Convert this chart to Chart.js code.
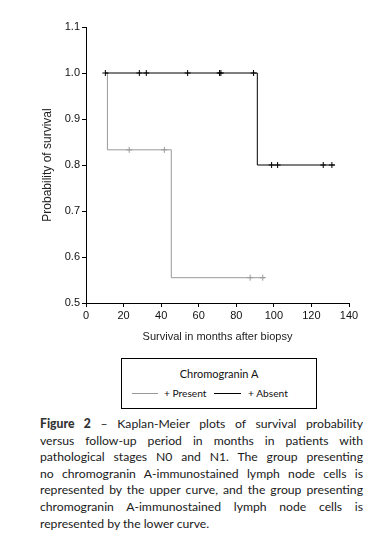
<!DOCTYPE html>
<html>
<head>
<meta charset="utf-8">
<script src="https://cdn.jsdelivr.net/npm/chart.js@4/dist/chart.umd.min.js"></script>
<style>
  html, body { margin: 0; padding: 0; background: #fff; }
  body { width: 372px; height: 550px; position: relative; overflow: hidden; }
  #c { position: absolute; left: 0; top: 0; }
  #legend { position: absolute; left: 121px; top: 358px; width: 194px; height: 49px;
            border: 1px solid #000; font-family: "Lato", "Liberation Sans", sans-serif; font-size: 11px; color: #111; }
  #legend .title { position: absolute; top: 8px; left: 0; width: 100%; text-align: center; }
  #legend .item { position: absolute; top: 28px; white-space: nowrap; font-size: 10.2px; }
  #legend .swatch { position: absolute; top: 7px; height: 0; border-top: 1px solid; }
  #caption { position: absolute; left: 40px; top: 416px; width: 323px;
             font-family: "Lato", "Noto Sans", sans-serif; font-size: 12.2px; color: #1a1a1a; line-height: 16.6px; }
  #caption div { white-space: nowrap; text-align: justify; text-align-last: justify; }
  #caption div.last { text-align-last: left; }
  #caption b { font-weight: 900; color: #333; }
</style>
</head>
<body>
<canvas id="c" width="372" height="350"></canvas>
<div id="legend">
  <div class="title">Chromogranin A</div>
  <div class="swatch" style="left:10px;width:26px;border-color:#999;top:34px;"></div>
  <div class="item" style="left:42px;">+ Present</div>
  <div class="swatch" style="left:92px;width:27px;border-color:#000;top:34px;"></div>
  <div class="item" style="left:126px;">+ Absent</div>
</div>
<div id="caption">
  <div><b>Figure 2</b> – Kaplan-Meier plots of survival probability</div>
  <div>versus follow-up period in months in patients with</div>
  <div>pathological stages N0 and N1. The group presenting</div>
  <div>no chromogranin A-immunostained lymph node cells is</div>
  <div>represented by the upper curve, and the group presenting</div>
  <div>chromogranin A-immunostained lymph node cells is</div>
  <div class="last">represented by the lower curve.</div>
</div>
<script>
// ---- Data ----
const absentTimes = [10.3, 91.2, 132.5];
const absentSurv  = [1.0, 0.8, 0.8];
const presentTimes = [10.3, 11.4, 45.4, 95.4];
const presentSurv  = [1.0, 0.833, 0.555, 0.555];
const absentCensorTimes = [10.3, 28.4, 32.1, 54.1, 71.1, 71.8, 89.2, 98.8, 102.0, 126.3, 130.9];
const absentCensorSurv  = [1.0, 1.0, 1.0, 1.0, 1.0, 1.0, 1.0, 0.8, 0.8, 0.8, 0.8];
const presentCensorTimes = [23.0, 41.7, 87.4, 94.1];
const presentCensorSurv  = [0.833, 0.833, 0.555, 0.555];
const xTicks = [0, 20, 40, 60, 80, 100, 120, 140];
const yTicks = [0.5, 0.6, 0.7, 0.8, 0.9, 1.0, 1.1];

const pts = (xs, ys) => xs.map((x, i) => ({x: x, y: ys[i]}));
const GRAY = '#999999';

new Chart(document.getElementById('c'), {
  type: 'line',
  data: {
    datasets: [
      { label: 'Absent', data: pts(absentTimes, absentSurv), stepped: true,
        borderColor: '#000', borderWidth: 1, pointRadius: 0, fill: false },
      { label: 'Absent censored', type: 'scatter', data: pts(absentCensorTimes, absentCensorSurv),
        showLine: false, pointStyle: 'cross', pointRadius: 3, borderColor: '#000', borderWidth: 1 },
      { label: 'Present', data: pts(presentTimes, presentSurv), stepped: true,
        borderColor: GRAY, borderWidth: 1, pointRadius: 0, fill: false },
      { label: 'Present censored', type: 'scatter', data: pts(presentCensorTimes, presentCensorSurv),
        showLine: false, pointStyle: 'cross', pointRadius: 3, borderColor: GRAY, borderWidth: 1 }
    ]
  },
  options: {
    responsive: false,
    animation: false,
    layout: { padding: { left: 40, top: 27, right: 23, bottom: 0 } },
    plugins: { legend: { display: false }, tooltip: { enabled: false } },
    scales: {
      x: {
        type: 'linear', min: 0, max: 140,
        afterFit: s => { s.height = 47; },
        afterBuildTicks: s => { s.ticks = xTicks.map(v => ({value: v})); },
        border: { color: '#000', width: 1 },
        grid: { drawOnChartArea: false, drawTicks: true, tickLength: 4, tickColor: '#000' },
        ticks: { color: '#111', font: { family: 'Liberation Sans', size: 11 }, padding: 2, maxRotation: 0 },
        title: { display: true, text: 'Survival in months after biopsy', color: '#222',
                 font: { family: 'Liberation Sans', size: 11 }, padding: { top: 0, bottom: 6 } }
      },
      y: {
        type: 'linear', min: 0.5, max: 1.1,
        afterFit: s => { s.width = 46; },
        afterBuildTicks: s => { s.ticks = yTicks.map(v => ({value: v})); },
        border: { color: '#000', width: 1 },
        grid: { drawOnChartArea: false, drawTicks: true, tickLength: 4, tickColor: '#000' },
        ticks: { color: '#111', font: { family: 'Liberation Sans', size: 11 }, padding: 2,
                 callback: v => Number(v).toFixed(1) },
        title: { display: true, text: 'Probability of survival', color: '#222',
                 font: { family: 'Liberation Sans', size: 12 }, padding: { top: 0, bottom: 0 } }
      }
    }
  }
});
</script>
</body>
</html>
